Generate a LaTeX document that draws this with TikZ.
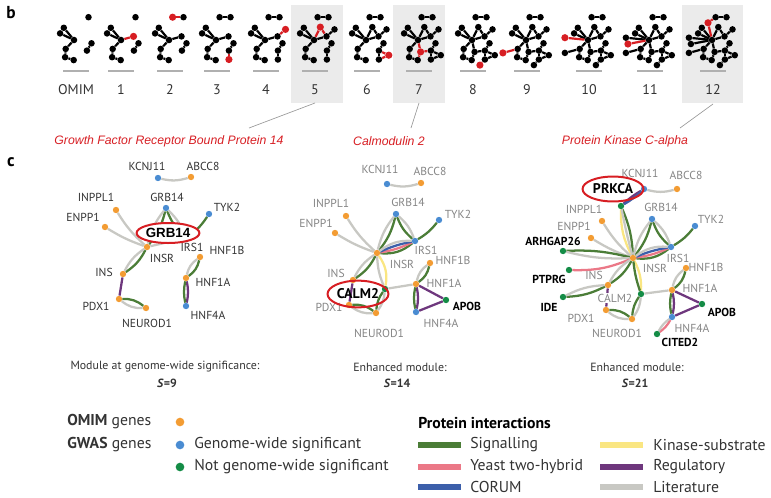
\documentclass[tikz,border=0pt]{standalone}
\usepackage{fontspec}
\setmainfont{PT Sans}
\newfontfamily\arf{Liberation Sans}
\usetikzlibrary{shapes.geometric}
\pgfdeclarelayer{back}
\pgfdeclarelayer{bg}
\pgfsetlayers{back,bg,main}
\definecolor{corange}{HTML}{F39C33}
\definecolor{cblue}{HTML}{4A8CD2}
\definecolor{cgreen}{HTML}{148C46}
\definecolor{csig}{HTML}{4B7D37}
\definecolor{cy2h}{HTML}{EB7887}
\definecolor{ccor}{HTML}{3C5FAA}
\definecolor{ckin}{HTML}{FAE682}
\definecolor{creg}{HTML}{6E377D}
\definecolor{clit}{HTML}{C8C8C3}
\definecolor{cred}{HTML}{D71E23}
\definecolor{labdark}{HTML}{333333}
\definecolor{labgray}{HTML}{858585}
\definecolor{boxgray}{HTML}{EBEBEB}
\definecolor{rulegray}{HTML}{B0B0B0}
\newcommand\gfont{\fontsize{8.7}{10}\selectfont}
\newcommand\lgfont{\fontsize{11.8}{14}\selectfont}
\newcommand\lnk[4]{\draw[#1] (#3) to[bend left=#2] (#4);}
\tikzset{
 dot/.style={circle,inner sep=0pt,minimum size=4.8pt,draw=none},
 om/.style={dot,fill=corange}, gw/.style={dot,fill=cblue}, ng/.style={dot,fill=cgreen},
 lk/.style={line width=1.7pt},
 sig/.style={lk,draw=csig}, y2h/.style={lk,draw=cy2h}, cor/.style={lk,draw=ccor},
 kin/.style={lk,draw=ckin}, reg/.style={lk,draw=creg}, lit/.style={lk,draw=clit},
 glab/.style={font=\gfont, text=labdark, inner sep=0pt},
 glabg/.style={glab,text=labgray},
 glabb/.style={font=\gfont\bfseries, text=black, inner sep=0pt},
 mdot/.style={circle,inner sep=0pt,minimum size=4.9pt,fill=black},
 mdotred/.style={mdot,fill=cred,minimum size=5.4pt},
 medge/.style={line width=1.65pt},
 tilelab/.style={font=\fontsize{10.5}{12}\selectfont, text=labdark, inner sep=0pt},
 redlab/.style={font=\arf\itshape\fontsize{9.2}{11}\selectfont, text=cred, inner sep=0pt},
 leader/.style={draw=gray!80, line width=0.5pt},
 hilite/.style={ellipse, draw=cred, line width=1.5pt, inner sep=0pt},
 captxt/.style={font=\fontsize{8.9}{10}\selectfont, text=labdark, inner sep=0pt},
 lgtxt/.style={font=\lgfont, text=labdark, anchor=west, inner sep=0pt},
 swatch/.style={line width=4.5pt},
 lgdot/.style={dot,minimum size=6.5pt}
}
\begin{document}
\begin{tikzpicture}[x=0.75pt,y=-0.75pt]
\useasboundingbox (0,0) rectangle (771,497);
% ---------------- part b ----------------
\node[font=\fontsize{13}{15}\selectfont\bfseries, inner sep=0pt] (labb) at (11,13) {b};
\begin{pgfonlayer}{back}
\fill[boxgray] (291,5) rectangle (343,103);
\fill[boxgray] (393,5) rectangle (445,103);
\fill[boxgray] (682,5) rectangle (743,103);
\end{pgfonlayer}
\def\mgx{{14.5,-10.2,-13.9,0,-8.3,-8.9,-0.3,17.5,12.9,12.5,3.6,12.9,20.5,6.3,22.8,2.6,7.9,-23.1,-23.1,-21.1,-4}}
\def\mgy{{-22.8,-12.2,-6.6,0,8.9,17.2,20.1,3.3,10.6,-3.6,-22.8,19.5,-10.6,-12.9,15.2,11.9,25.1,12.9,-2.3,4,-17.2}}
\foreach \tk/\hx/\lx/\tl in {0/74/76/OMIM,1/121/121/1,2/169/170/2,3/216/217/3,4/265/266/4,5/314/315/5,6/366/367/6,7/418/419/7,8/472/473/8,9/526/527/9,10/588/589/10,11/649/650/11,12/712/713/12}{
  \pgfmathtruncatemacro\nmax{\tk+8}
  \foreach \ei in {0,...,\nmax}{
    \pgfmathsetmacro\px{\hx+\mgx[\ei]}
    \pgfmathsetmacro\py{40+\mgy[\ei]}
    \def\dc{mdot}
    \ifnum\ei=\nmax \ifnum\tk>0 \def\dc{mdotred}\fi\fi
    \node[\dc] (t\tk-\ei) at (\px,\py) {};
  }
  \foreach \ea/\eb in {0/10,10/20,20/3,1/3,2/3,18/3,19/3,13/3,13/9,12/9,3/9,3/4,3/15,4/17,4/5,15/8,15/6,5/6,7/8,8/11,8/14,11/14,11/16}{
    \pgfmathtruncatemacro\mx{max(\ea,\eb)}
    \ifnum\mx>\nmax\relax\else
      \def\isred{0}
      \ifnum\mx=\nmax \ifnum\tk>0 \def\isred{1}\fi\fi
      \ifnum\isred=1
        \draw[medge,draw=cred] (t\tk-\ea) -- (t\tk-\eb);
      \else
        \begin{pgfonlayer}{bg}
        \draw[medge,draw=black] (t\tk-\ea) -- (t\tk-\eb);
        \end{pgfonlayer}
      \fi
    \fi
  }
  \coordinate (ru\tk a) at (\lx-13,71);
  \coordinate (ru\tk b) at (\lx+13,71);
  \draw[rulegray,line width=0.8pt] (ru\tk a) -- (ru\tk b);
  \node[tilelab] (tl\tk) at (\lx,90) {\tl};
}
\coordinate (bx5) at (315,103);
\coordinate (bx7) at (419,103);
\coordinate (bx12) at (713,104);
\node[redlab] (rl5) at (169,141) {Growth Factor Receptor Bound Protein 14};
\node[redlab] (rl7) at (389,141) {Calmodulin 2};
\node[redlab] (rl12) at (625,141) {Protein Kinase C-alpha};
\coordinate (le5) at (249,128);
\coordinate (le7) at (411,128);
\coordinate (le12) at (680,128);
\draw[leader] (bx5) -- (le5);
\draw[leader] (bx7) -- (le7);
\draw[leader] (bx12) -- (le12);
% ---------------- part c ----------------
\node[font=\fontsize{13}{15}\selectfont\bfseries, inner sep=0pt] (labc) at (11,162) {c};
% ===== left module =====
\node[gw] (L-KCNJ11) at (158,178) {};
\node[om] (L-ABCC8) at (191,177) {};
\node[om] (L-INPPL1) at (116,210) {};
\node[gw] (L-GRB14) at (166,208) {};
\node[gw] (L-TYK2) at (209,214) {};
\node[om] (L-ENPP1) at (105,227) {};
\node[om] (L-INSR) at (147,247) {};
\node[gw] (L-IRS1) at (186,238) {};
\node[om] (L-HNF1B) at (200,257) {};
\node[om] (L-INS) at (123,274) {};
\node[om] (L-HNF1A) at (186,278) {};
\node[om] (L-PDX1) at (119,299) {};
\node[om] (L-NEUROD1) at (146,308) {};
\node[gw] (L-HNF4A) at (186,306) {};
\begin{pgfonlayer}{bg}
\lnk{lit}{-15}{L-KCNJ11}{L-ABCC8}
\lnk{lit}{-8}{L-INPPL1}{L-INSR}
\lnk{lit}{-6}{L-ENPP1}{L-INSR}
\lnk{sig}{12}{L-GRB14}{L-INSR}\lnk{lit}{-12}{L-GRB14}{L-INSR}
\lnk{sig}{-12}{L-GRB14}{L-IRS1}\lnk{lit}{12}{L-GRB14}{L-IRS1}
\lnk{sig}{10}{L-TYK2}{L-IRS1}
\lnk{lit}{0}{L-INSR}{L-IRS1}
\lnk{sig}{14}{L-INSR}{L-INS}\lnk{lit}{-14}{L-INSR}{L-INS}
\lnk{reg}{0}{L-INS}{L-PDX1}
\lnk{sig}{20}{L-PDX1}{L-NEUROD1}\lnk{lit}{-20}{L-PDX1}{L-NEUROD1}
\lnk{sig}{20}{L-HNF1B}{L-HNF1A}\lnk{lit}{-20}{L-HNF1B}{L-HNF1A}
\lnk{reg}{12}{L-HNF1A}{L-HNF4A}\lnk{sig}{-12}{L-HNF1A}{L-HNF4A}
\end{pgfonlayer}
\node[glab] (Lt-KCNJ11) at (147,166) {KCNJ11};
\node[glab] (Lt-ABCC8) at (203,166) {ABCC8};
\node[glab] (Lt-INPPL1) at (96,197) {INPPL1};
\node[glab] (Lt-GRB14) at (167,197) {GRB14};
\node[glab] (Lt-TYK2) at (227,207) {TYK2};
\node[glab] (Lt-ENPP1) at (83,217) {ENPP1};
\node[glab] (Lt-INSR) at (162,258) {INSR};
\node[glab] (Lt-IRS1) at (192,247) {IRS1};
\node[glab] (Lt-HNF1B) at (227,250) {HNF1B};
\node[glab] (Lt-INS) at (104,272) {INS};
\node[glab] (Lt-HNF1A) at (213,282) {HNF1A};
\node[glab] (Lt-PDX1) at (96,306) {PDX1};
\node[glab] (Lt-NEUROD1) at (147,323) {NEUROD1};
\node[glab] (Lt-HNF4A) at (208,315) {HNF4A};
\node[hilite, fill=white, minimum width=46.5pt, minimum height=15pt, font=\arf\bfseries\fontsize{10}{12}\selectfont] (L-hl) at (168,233) {GRB14};
\node[captxt] (L-cap) at (165,367) {Module at genome-wide significance:};
\node[captxt, font=\fontsize{8.9}{10}\selectfont\bfseries] (L-s) at (167,383) {\textit{S}=9};
% ===== middle module =====
\node[gw] (M-KCNJ11) at (387,184) {};
\node[om] (M-ABCC8) at (421,183) {};
\node[om] (M-INPPL1) at (346,216) {};
\node[gw] (M-GRB14) at (396,214) {};
\node[gw] (M-TYK2) at (439,220) {};
\node[om] (M-ENPP1) at (335,233) {};
\node[om] (M-INSR) at (377,253) {};
\node[gw] (M-IRS1) at (415,241) {};
\node[om] (M-HNF1B) at (430,263) {};
\node[om] (M-INS) at (353,280) {};
\node[ng] (M-CALM2) at (385,289) {};
\node[om] (M-HNF1A) at (416,284) {};
\node[ng] (M-APOB) at (446,300) {};
\node[om] (M-PDX1) at (349,305) {};
\node[om] (M-NEUROD1) at (376,313) {};
\node[gw] (M-HNF4A) at (416,312) {};
\begin{pgfonlayer}{bg}
\lnk{lit}{-15}{M-KCNJ11}{M-ABCC8}
\lnk{lit}{-8}{M-INPPL1}{M-INSR}
\lnk{lit}{-6}{M-ENPP1}{M-INSR}
\lnk{sig}{12}{M-GRB14}{M-INSR}\lnk{lit}{-12}{M-GRB14}{M-INSR}
\lnk{sig}{-14}{M-GRB14}{M-IRS1}\lnk{lit}{14}{M-GRB14}{M-IRS1}
\lnk{sig}{10}{M-TYK2}{M-IRS1}
\lnk{sig}{-22}{M-INSR}{M-IRS1}\lnk{y2h}{-8}{M-INSR}{M-IRS1}\lnk{cor}{6}{M-INSR}{M-IRS1}\lnk{lit}{20}{M-INSR}{M-IRS1}
\lnk{sig}{14}{M-INSR}{M-INS}\lnk{lit}{-14}{M-INSR}{M-INS}
\lnk{lit}{-10}{M-INSR}{M-CALM2}\lnk{kin}{22}{M-INSR}{M-CALM2}
\lnk{reg}{0}{M-INS}{M-PDX1}
\lnk{sig}{20}{M-PDX1}{M-NEUROD1}\lnk{lit}{-20}{M-PDX1}{M-NEUROD1}
\lnk{sig}{-15}{M-CALM2}{M-NEUROD1}\lnk{lit}{15}{M-CALM2}{M-NEUROD1}
\lnk{lit}{0}{M-CALM2}{M-HNF1A}
\lnk{sig}{20}{M-HNF1B}{M-HNF1A}\lnk{lit}{-20}{M-HNF1B}{M-HNF1A}
\lnk{reg}{12}{M-HNF1A}{M-HNF4A}\lnk{sig}{-12}{M-HNF1A}{M-HNF4A}
\lnk{reg}{0}{M-HNF1A}{M-APOB}
\lnk{reg}{0}{M-HNF4A}{M-APOB}
\end{pgfonlayer}
\node[glabg] (Mt-KCNJ11) at (380,169) {KCNJ11};
\node[glabg] (Mt-ABCC8) at (430,171) {ABCC8};
\node[glabg] (Mt-INPPL1) at (331,203) {INPPL1};
\node[glabg] (Mt-GRB14) at (408,202) {GRB14};
\node[glabg] (Mt-TYK2) at (458,214) {TYK2};
\node[glabg] (Mt-ENPP1) at (316,223) {ENPP1};
\node[glabg] (Mt-INSR) at (402,264) {INSR};
\node[glabg] (Mt-IRS1) at (426,250) {IRS1};
\node[glabg] (Mt-HNF1B) at (453,260) {HNF1B};
\node[glabg] (Mt-INS) at (336,273) {INS};
\node[glabg] (Mt-HNF1A) at (444,283) {HNF1A};
\node[glabb] (Mt-APOB) at (467,306) {APOB};
\node[glabg] (Mt-PDX1) at (329,307) {PDX1};
\node[glabg] (Mt-NEUROD1) at (379,333) {NEUROD1};
\node[glabg] (Mt-HNF4A) at (441,323) {HNF4A};
\node[hilite, minimum width=45.7pt, minimum height=20pt, font=\bfseries\fontsize{10.5}{12}\selectfont] (M-hl) at (358,294) {CALM2};
\node[captxt] (M-cap) at (400,367) {Enhanced module:};
\node[captxt, font=\fontsize{8.9}{10}\selectfont\bfseries] (M-s) at (397,383) {\textit{S}=14};
% ===== right module =====
\node[gw] (R-KCNJ11) at (644,189) {};
\node[om] (R-ABCC8) at (677,189) {};
\node[ng] (R-PRKCA) at (621,206) {};
\node[om] (R-INPPL1) at (602,221) {};
\node[gw] (R-GRB14) at (652,219) {};
\node[gw] (R-TYK2) at (695,226) {};
\node[om] (R-ENPP1) at (591,238) {};
\node[ng] (R-ARHGAP26) at (563,251) {};
\node[gw] (R-IRS1) at (671,247) {};
\node[om] (R-INSR) at (633,258) {};
\node[om] (R-HNF1B) at (686,268) {};
\node[ng] (R-PTPRG) at (569,270) {};
\node[om] (R-INS) at (608,285) {};
\node[om] (R-HNF1A) at (672,290) {};
\node[ng] (R-CALM2) at (641,294) {};
\node[ng] (R-IDE) at (563,297) {};
\node[ng] (R-APOB) at (702,304) {};
\node[om] (R-PDX1) at (606,310) {};
\node[om] (R-NEUROD1) at (632,319) {};
\node[gw] (R-HNF4A) at (672,317) {};
\node[ng] (R-CITED2) at (657,334) {};
\begin{pgfonlayer}{bg}
\lnk{lit}{-15}{R-KCNJ11}{R-ABCC8}
\lnk{reg}{6}{R-PRKCA}{R-KCNJ11}\lnk{cor}{-6}{R-PRKCA}{R-KCNJ11}
\lnk{kin}{-14}{R-PRKCA}{R-INSR}\lnk{sig}{10}{R-PRKCA}{R-INSR}\lnk{lit}{-2}{R-PRKCA}{R-INSR}
\lnk{lit}{-8}{R-INPPL1}{R-INSR}
\lnk{lit}{-6}{R-ENPP1}{R-INSR}
\lnk{sig}{8}{R-ARHGAP26}{R-INSR}\lnk{lit}{-8}{R-ARHGAP26}{R-INSR}
\lnk{y2h}{-12}{R-PTPRG}{R-INSR}
\lnk{sig}{12}{R-GRB14}{R-INSR}\lnk{lit}{-12}{R-GRB14}{R-INSR}
\lnk{sig}{-14}{R-GRB14}{R-IRS1}\lnk{lit}{14}{R-GRB14}{R-IRS1}
\lnk{sig}{10}{R-TYK2}{R-IRS1}
\lnk{sig}{-22}{R-INSR}{R-IRS1}\lnk{y2h}{-8}{R-INSR}{R-IRS1}\lnk{cor}{6}{R-INSR}{R-IRS1}\lnk{lit}{20}{R-INSR}{R-IRS1}
\lnk{sig}{14}{R-INSR}{R-INS}\lnk{lit}{-14}{R-INSR}{R-INS}
\lnk{kin}{14}{R-INSR}{R-CALM2}\lnk{sig}{-6}{R-INSR}{R-CALM2}
\lnk{sig}{12}{R-INS}{R-IDE}\lnk{lit}{-12}{R-INS}{R-IDE}
\lnk{reg}{0}{R-INS}{R-PDX1}
\lnk{lit}{0}{R-CALM2}{R-HNF1A}
\lnk{sig}{-15}{R-CALM2}{R-NEUROD1}\lnk{lit}{15}{R-CALM2}{R-NEUROD1}
\lnk{sig}{20}{R-PDX1}{R-NEUROD1}\lnk{lit}{-20}{R-PDX1}{R-NEUROD1}
\lnk{sig}{20}{R-HNF1B}{R-HNF1A}\lnk{lit}{-20}{R-HNF1B}{R-HNF1A}
\lnk{reg}{12}{R-HNF1A}{R-HNF4A}\lnk{sig}{-12}{R-HNF1A}{R-HNF4A}
\lnk{reg}{0}{R-HNF1A}{R-APOB}
\lnk{reg}{0}{R-HNF4A}{R-APOB}
\lnk{y2h}{12}{R-HNF4A}{R-CITED2}\lnk{lit}{-12}{R-HNF4A}{R-CITED2}
\end{pgfonlayer}
\node[glabg] (Rt-KCNJ11) at (640,173) {KCNJ11};
\node[glabg] (Rt-ABCC8) at (686,175) {ABCC8};
\node[glabg] (Rt-INPPL1) at (584,209) {INPPL1};
\node[glabg] (Rt-GRB14) at (661,207) {GRB14};
\node[glabg] (Rt-TYK2) at (711,219) {TYK2};
\node[glabg] (Rt-ENPP1) at (574,226) {ENPP1};
\node[glabb] (Rt-ARHGAP26) at (553,241) {ARHGAP26};
\node[glabg] (Rt-IRS1) at (678,258) {IRS1};
\node[glabg] (Rt-INSR) at (655,268) {INSR};
\node[glabg] (Rt-HNF1B) at (706,267) {HNF1B};
\node[glabb] (Rt-PTPRG) at (549,279) {PTPRG};
\node[glabg] (Rt-INS) at (594,275) {INS};
\node[glabg] (Rt-HNF1A) at (700,288) {HNF1A};
\node[glabg, fill=white, inner sep=0.5pt] (Rt-CALM2) at (615,298) {CALM2};
\node[glabb] (Rt-IDE) at (549,307) {IDE};
\node[glabb] (Rt-APOB) at (722,312) {APOB};
\node[glabg] (Rt-PDX1) at (581,318) {PDX1};
\node[glabg] (Rt-NEUROD1) at (617,333) {NEUROD1};
\node[glabg] (Rt-HNF4A) at (692,328) {HNF4A};
\node[glabb] (Rt-CITED2) at (680,342) {CITED2};
\node[hilite, minimum width=45.7pt, minimum height=18.7pt, font=\bfseries\fontsize{10.5}{12}\selectfont] (R-hl) at (613,189) {PRKCA};
\node[captxt] (R-cap) at (637,367) {Enhanced module:};
\node[captxt, font=\fontsize{8.9}{10}\selectfont\bfseries] (R-s) at (635,383) {\textit{S}=21};
% ---------------- legend ----------------
\node[lgtxt] (lg-omim) at (67,422) {\textbf{OMIM} genes};
\node[lgdot, fill=corange] (lg-od) at (180,422) {};
\node[lgtxt] (lg-gwas) at (67,445) {\textbf{GWAS} genes};
\node[lgdot, fill=cblue] (lg-bd) at (180,445) {};
\node[lgtxt] (lg-gws) at (194,445) {Genome-wide significant};
\node[lgdot, fill=cgreen] (lg-gd) at (180,467) {};
\node[lgtxt] (lg-ngws) at (194,467) {Not genome-wide significant};
\node[lgtxt, font=\lgfont\bfseries, text=black] (lg-pi) at (418,423) {Protein interactions};
\coordinate (sw1a) at (418,445); \coordinate (sw1b) at (461,445);
\coordinate (sw2a) at (418,467); \coordinate (sw2b) at (461,467);
\coordinate (sw3a) at (418,487); \coordinate (sw3b) at (461,487);
\coordinate (sw4a) at (600,445); \coordinate (sw4b) at (643,445);
\coordinate (sw5a) at (600,467); \coordinate (sw5b) at (643,467);
\coordinate (sw6a) at (600,487); \coordinate (sw6b) at (643,487);
\draw[swatch, csig] (sw1a) -- (sw1b);
\draw[swatch, cy2h] (sw2a) -- (sw2b);
\draw[swatch, ccor] (sw3a) -- (sw3b);
\draw[swatch, ckin] (sw4a) -- (sw4b);
\draw[swatch, creg] (sw5a) -- (sw5b);
\draw[swatch, clit] (sw6a) -- (sw6b);
\node[lgtxt] (lg-sig) at (470,445) {Signalling};
\node[lgtxt] (lg-y2h) at (470,467) {Yeast two-hybrid};
\node[lgtxt] (lg-cor) at (470,487) {CORUM};
\node[lgtxt] (lg-kin) at (653,445) {Kinase-substrate};
\node[lgtxt] (lg-reg) at (653,467) {Regulatory};
\node[lgtxt] (lg-lit) at (653,487) {Literature};
\end{tikzpicture}
\end{document}
